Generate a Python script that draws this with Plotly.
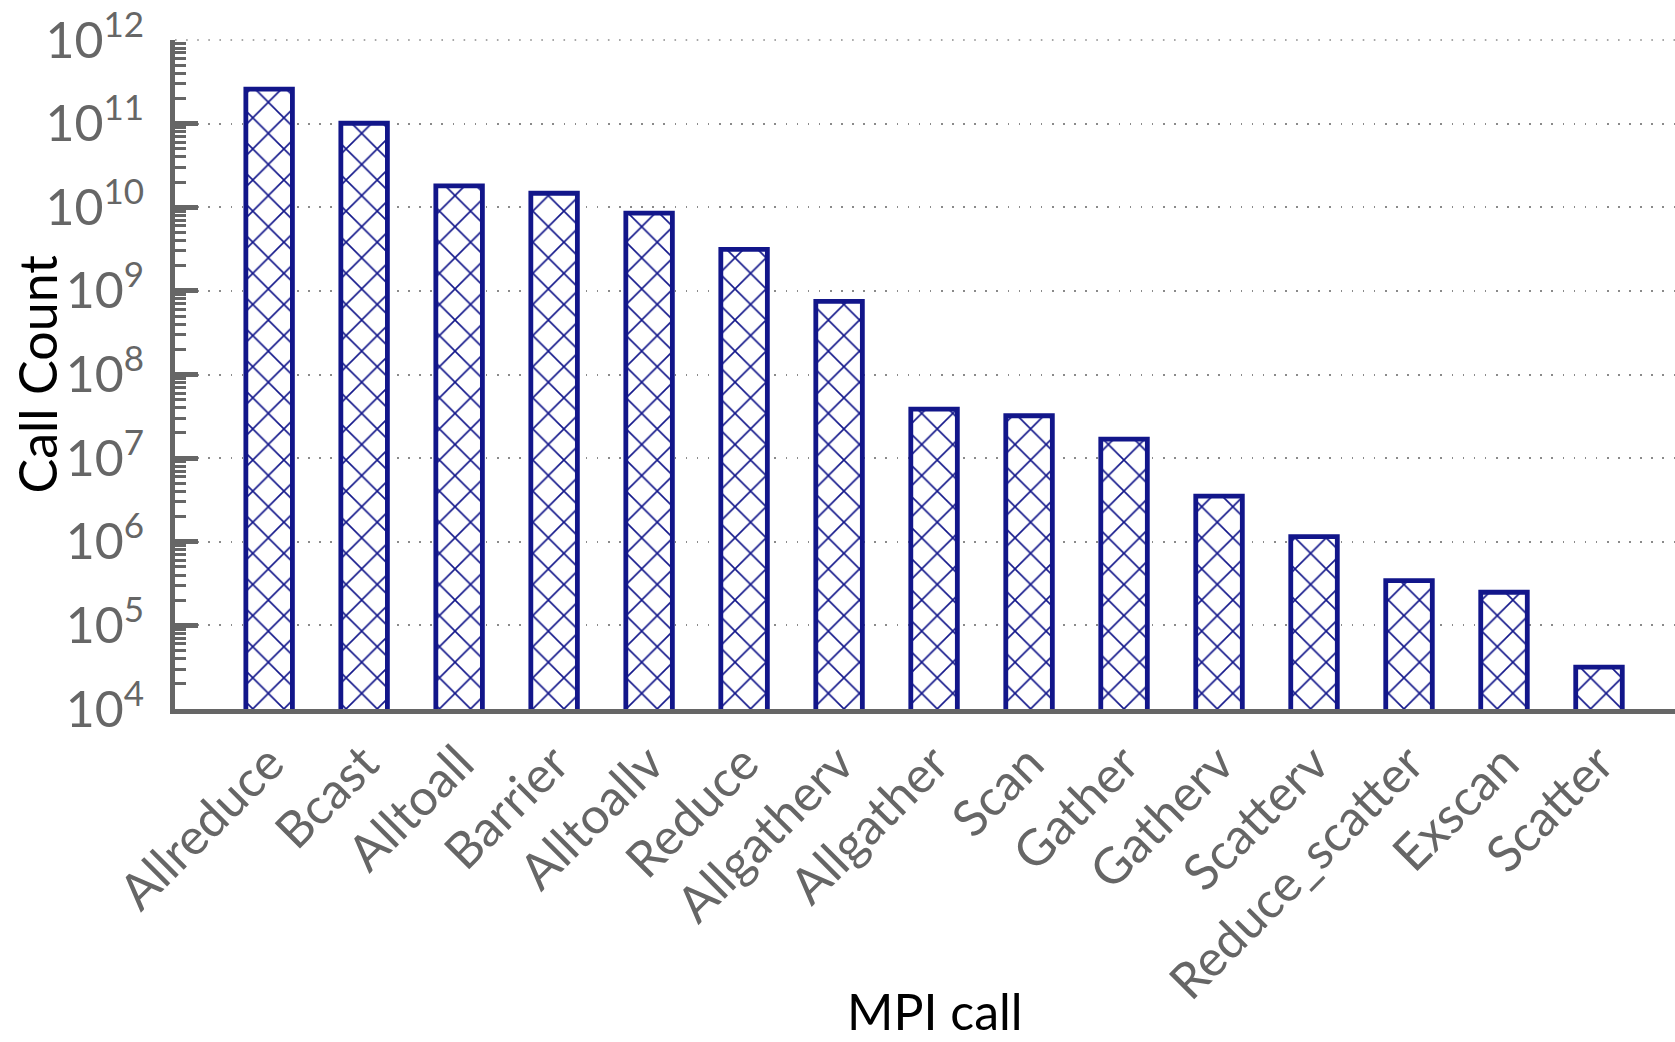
import plotly.graph_objects as go

# MPI collective call counts (log scale)
calls = ["Allreduce", "Bcast", "Alltoall", "Barrier", "Alltoallv", "Reduce",
         "Allgatherv", "Allgather", "Scan", "Gather", "Gatherv", "Scatterv",
         "Reduce_scatter", "Exscan", "Scatter"]
counts = [2.58e11, 1.01e11, 1.80e10, 1.47e10, 8.5e9, 3.14e9,
          7.5e8, 3.85e7, 3.21e7, 1.69e7, 3.52e6, 1.15e6,
          3.43e5, 2.49e5, 3.16e4]

y_tickvals = [1e4, 1e5, 1e6, 1e7, 1e8, 1e9, 1e10, 1e11, 1e12]
y_ticktext = ["10<sup>%d</sup>" % e for e in range(4, 13)]

NAVY = "#12168a"
AXIS_GREY = "#666666"
GRID_GREY = "#8a8a8a"
GRID_DASH = "1.6px,9.5px"
FONT = "Lato, 'Open Sans', sans-serif"

W, H = 1675, 1042
ML, MR, MT, MB = 175, 0, 40, 333

fig = go.Figure(
    go.Bar(
        x=calls,
        y=counts,
        width=0.49,
        marker=dict(
            color="white",
            line=dict(color=NAVY, width=4.8),
            pattern=dict(shape="x", fgcolor=NAVY, bgcolor="white",
                         size=22, solidity=0.14, fillmode="replace"),
        ),
        showlegend=False,
    )
)

fig.update_layout(
    width=W, height=H,
    margin=dict(l=ML, r=MR, t=MT, b=MB),
    paper_bgcolor="white",
    plot_bgcolor="white",
    font=dict(family=FONT, color=AXIS_GREY),
)

fig.update_xaxes(
    type="category",
    range=[-0.991, 14.8],
    showgrid=False,
    showline=True, linecolor=AXIS_GREY, linewidth=5,
    ticks="",
    tickangle=-45,
    tickfont=dict(size=50, color=AXIS_GREY, family=FONT),
    layer="below traces",
    zeroline=False,
)

fig.update_yaxes(
    type="log",
    range=[4, 12],
    tickvals=y_tickvals,
    ticktext=y_ticktext,
    tickfont=dict(size=50, color=AXIS_GREY, family=FONT),
    ticks="inside", ticklen=23, tickwidth=4.5, tickcolor=AXIS_GREY,
    ticklabelstandoff=16,
    minor=dict(ticks="inside", ticklen=11, tickwidth=3, tickcolor=AXIS_GREY,
               dtick="D1", showgrid=False),
    showline=True, linecolor=AXIS_GREY, linewidth=5,
    showgrid=True, gridcolor=GRID_GREY, gridwidth=1.6, griddash=GRID_DASH,
    zeroline=False,
    layer="below traces",
)

# dotted guide along the top decade (10^12 sits on the plot's upper edge)
fig.add_shape(
    type="line", xref="paper", yref="paper",
    x0=0, x1=1, y0=1, y1=1,
    line=dict(color=GRID_GREY, width=1.6, dash=GRID_DASH),
    layer="below",
)

plot_w = W - ML - MR
plot_h = H - MT - MB

fig.add_annotation(
    text="Call Count", textangle=-90,
    xref="paper", yref="paper",
    x=(36 - ML) / plot_w, y=0.5,
    xanchor="center", yanchor="middle",
    showarrow=False,
    font=dict(size=52, color="black", family=FONT),
)
fig.add_annotation(
    text="MPI call",
    xref="paper", yref="paper",
    x=(935 - ML) / plot_w, y=(MT + plot_h - 1011) / plot_h,
    xanchor="center", yanchor="middle",
    showarrow=False,
    font=dict(size=50, color="black", family=FONT),
)

fig.write_html("out.html")
